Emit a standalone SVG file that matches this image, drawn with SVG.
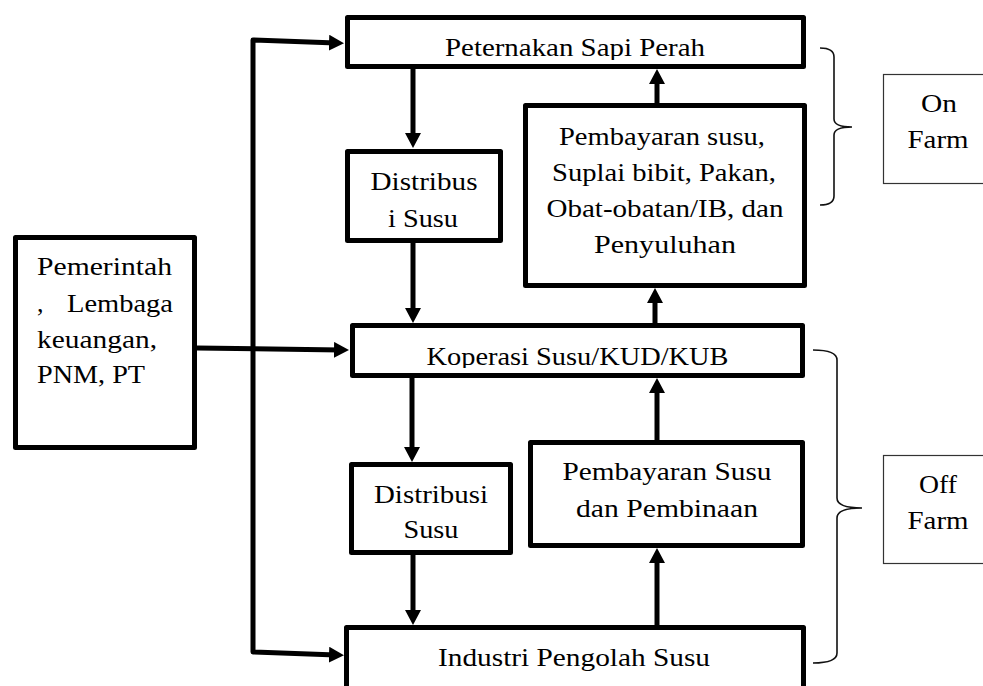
<svg xmlns="http://www.w3.org/2000/svg" width="983" height="686" viewBox="0 0 983 686">
<style>
.box{fill:#fff;stroke:#000;stroke-width:5;stroke-linejoin:round}
.thin{fill:#fff;stroke:#333;stroke-width:1.2}
.brace{fill:none;stroke:#111;stroke-width:1.6}
.con{fill:none;stroke:#000;stroke-width:5;stroke-linejoin:round}
text{font-family:"Liberation Serif","Times New Roman",serif;font-size:26px;fill:#000}
.c{text-anchor:middle}
</style>
<defs>
<marker id="ah" markerUnits="userSpaceOnUse" markerWidth="15" markerHeight="16" refX="7" refY="8" orient="auto-start-reverse" viewBox="0 0 15 16">
<path d="M0,0 L15,8 L0,16 z" fill="#000"/>
</marker>
<clipPath id="clipA"><rect x="345" y="15" width="461" height="45"/></clipPath>
<clipPath id="clipD"><rect x="350" y="323" width="455" height="45"/></clipPath>
</defs>

<g id="connectors">
<path class="con" d="M336,43 L253,40 L253,652 L336,655" marker-start="url(#ah)" marker-end="url(#ah)"/>
<path class="con" d="M413,69 L413,140" marker-end="url(#ah)"/>
<path class="con" d="M413,243 L413,315" marker-end="url(#ah)"/>
<path class="con" d="M657,103 L657,77" marker-end="url(#ah)"/>
<path class="con" d="M655,323 L655,296" marker-end="url(#ah)"/>
<path class="con" d="M197,348 L341,350" marker-end="url(#ah)"/>
<path class="con" d="M412,378 L412,454" marker-end="url(#ah)"/>
<path class="con" d="M657,440 L657,386" marker-end="url(#ah)"/>
<path class="con" d="M413,555 L413,617" marker-end="url(#ah)"/>
<path class="con" d="M657,625 L657,556" marker-end="url(#ah)"/>
</g>

<g id="peternakan">
<rect class="box" x="347.5" y="17.5" width="456" height="49"/>
<text class="c" x="575" y="56" textLength="260" lengthAdjust="spacingAndGlyphs" clip-path="url(#clipA)">Peternakan Sapi Perah</text>
</g>

<g id="distribusi1">
<rect class="box" x="347.5" y="151.5" width="153" height="89"/>
<text class="c" x="424" y="190" textLength="107" lengthAdjust="spacingAndGlyphs">Distribus</text>
<text class="c" x="423" y="227" textLength="70" lengthAdjust="spacingAndGlyphs">i Susu</text>
</g>

<g id="pembayaran1">
<rect class="box" x="525.5" y="105.5" width="279" height="180"/>
<text class="c" x="662" y="145" textLength="206" lengthAdjust="spacingAndGlyphs">Pembayaran susu,</text>
<text class="c" x="664" y="181" textLength="224" lengthAdjust="spacingAndGlyphs">Suplai bibit, Pakan,</text>
<text class="c" x="665" y="217" textLength="237" lengthAdjust="spacingAndGlyphs">Obat-obatan/IB, dan</text>
<text class="c" x="665" y="253" textLength="142" lengthAdjust="spacingAndGlyphs">Penyuluhan</text>
</g>

<g id="koperasi">
<rect class="box" x="352.5" y="325.5" width="450" height="50"/>
<text class="c" x="577.5" y="365" textLength="302" lengthAdjust="spacingAndGlyphs" clip-path="url(#clipD)">Koperasi Susu/KUD/KUB</text>
</g>

<g id="distribusi2">
<rect class="box" x="351.5" y="464.5" width="159" height="88"/>
<text class="c" x="431" y="503" textLength="114" lengthAdjust="spacingAndGlyphs">Distribusi</text>
<text class="c" x="431" y="538" textLength="55" lengthAdjust="spacingAndGlyphs">Susu</text>
</g>

<g id="pembayaran2">
<rect class="box" x="530.5" y="442.5" width="272" height="103"/>
<text class="c" x="667" y="480" textLength="209" lengthAdjust="spacingAndGlyphs">Pembayaran Susu</text>
<text class="c" x="667" y="517" textLength="182" lengthAdjust="spacingAndGlyphs">dan Pembinaan</text>
</g>

<g id="industri">
<rect class="box" x="346.5" y="627.5" width="457" height="100"/>
<text class="c" x="574" y="666" textLength="272" lengthAdjust="spacingAndGlyphs">Industri Pengolah Susu</text>
</g>

<g id="pemerintah">
<rect class="box" x="15.5" y="237.5" width="179" height="210"/>
<text x="37" y="275" textLength="135" lengthAdjust="spacingAndGlyphs">Pemerintah</text>
<text x="37" y="312">, <tspan x="67" textLength="106" lengthAdjust="spacingAndGlyphs">Lembaga</tspan></text>
<text x="37" y="348" textLength="120" lengthAdjust="spacingAndGlyphs">keuangan,</text>
<text x="37" y="383" textLength="108" lengthAdjust="spacingAndGlyphs">PNM, PT</text>
</g>

<g id="brace-on">
<path class="brace" d="M820,48 Q834,48 834,57 L834,119 Q834,127 852,127 Q834,127 834,135 L834,196 Q834,205 820,205"/>
</g>

<g id="onfarm">
<rect class="thin" x="883.5" y="74.5" width="120" height="109"/>
<text class="c" x="939" y="112" textLength="36" lengthAdjust="spacingAndGlyphs">On</text>
<text class="c" x="938" y="148" textLength="61" lengthAdjust="spacingAndGlyphs">Farm</text>
</g>

<g id="brace-off">
<path class="brace" d="M813,350 Q837,350 837,360 L837,498 Q837,508 862,508 Q837,508 837,518 L837,653 Q837,663 813,663"/>
</g>

<g id="offfarm">
<rect class="thin" x="883.5" y="455.5" width="120" height="108"/>
<text class="c" x="938" y="493" textLength="38" lengthAdjust="spacingAndGlyphs">Off</text>
<text class="c" x="938" y="529" textLength="61" lengthAdjust="spacingAndGlyphs">Farm</text>
</g>
</svg>
